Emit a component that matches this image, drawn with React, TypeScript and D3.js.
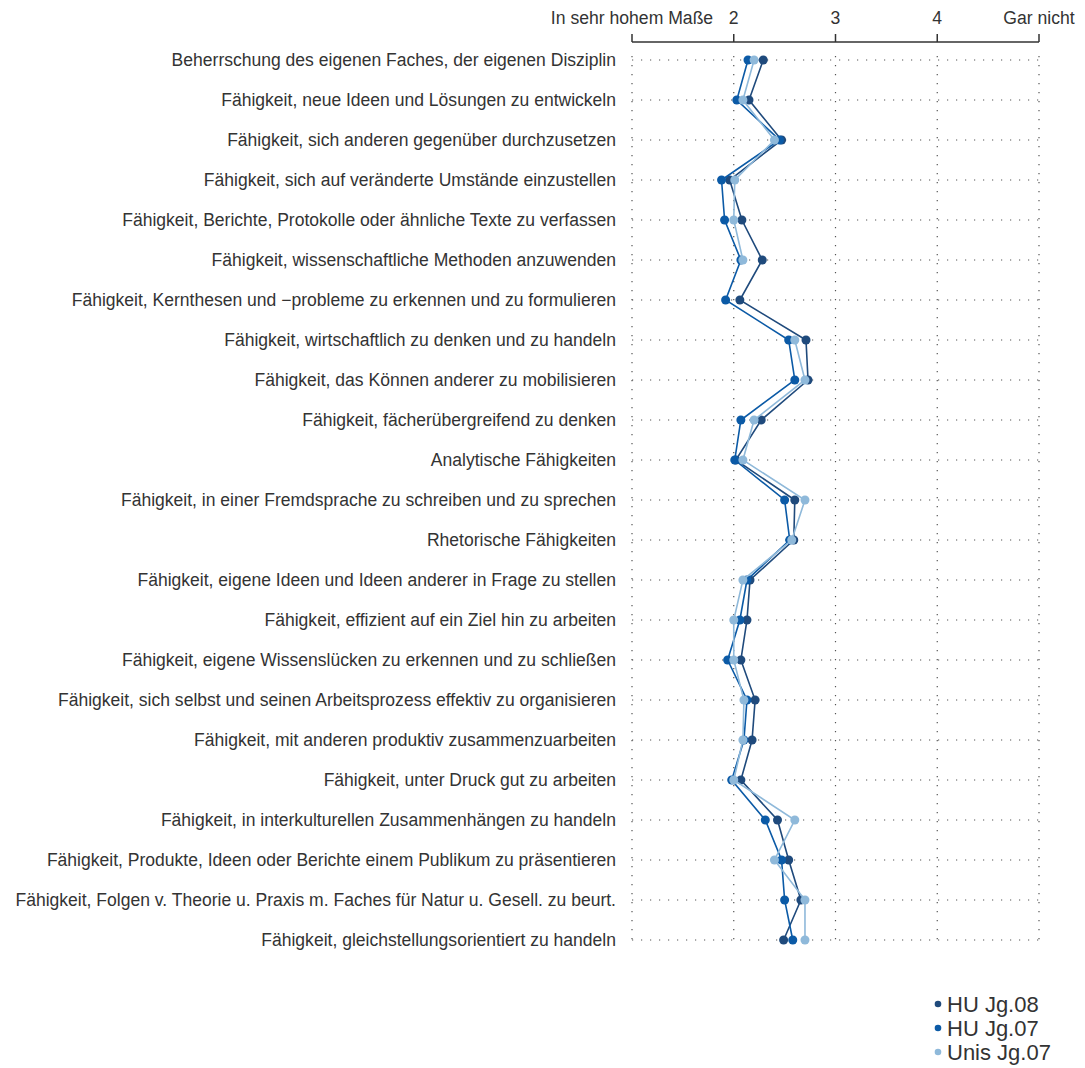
import React from "react";
import * as d3 from "d3";

const categories = [
  "Beherrschung des eigenen Faches, der eigenen Disziplin",
  "Fähigkeit, neue Ideen und Lösungen zu entwickeln",
  "Fähigkeit, sich anderen gegenüber durchzusetzen",
  "Fähigkeit, sich auf veränderte Umstände einzustellen",
  "Fähigkeit, Berichte, Protokolle oder ähnliche Texte zu verfassen",
  "Fähigkeit, wissenschaftliche Methoden anzuwenden",
  "Fähigkeit, Kernthesen und −probleme zu erkennen und zu formulieren",
  "Fähigkeit, wirtschaftlich zu denken und zu handeln",
  "Fähigkeit, das Können anderer zu mobilisieren",
  "Fähigkeit, fächerübergreifend zu denken",
  "Analytische Fähigkeiten",
  "Fähigkeit, in einer Fremdsprache zu schreiben und zu sprechen",
  "Rhetorische Fähigkeiten",
  "Fähigkeit, eigene Ideen und Ideen anderer in Frage zu stellen",
  "Fähigkeit, effizient auf ein Ziel hin zu arbeiten",
  "Fähigkeit, eigene Wissenslücken zu erkennen und zu schließen",
  "Fähigkeit, sich selbst und seinen Arbeitsprozess effektiv zu organisieren",
  "Fähigkeit, mit anderen produktiv zusammenzuarbeiten",
  "Fähigkeit, unter Druck gut zu arbeiten",
  "Fähigkeit, in interkulturellen Zusammenhängen zu handeln",
  "Fähigkeit, Produkte, Ideen oder Berichte einem Publikum zu präsentieren",
  "Fähigkeit, Folgen v. Theorie u. Praxis m. Faches für Natur u. Gesell. zu beurt.",
  "Fähigkeit, gleichstellungsorientiert zu handeln",
];

const huJg08 = [2.29, 2.15, 2.47, 1.96, 2.08, 2.28, 2.06, 2.71, 2.73, 2.27, 2.02, 2.6, 2.59, 2.16, 2.13, 2.07, 2.21, 2.18, 2.07, 2.43, 2.54, 2.66, 2.49];
const huJg07 = [2.14, 2.03, 2.45, 1.88, 1.91, 2.07, 1.92, 2.54, 2.6, 2.07, 2.01, 2.5, 2.55, 2.13, 2.06, 1.94, 2.13, 2.1, 1.98, 2.31, 2.47, 2.5, 2.58];
const unisJg07: (number | null)[] = [2.2, 2.09, 2.4, 2.01, 2.0, 2.09, null, 2.6, 2.7, 2.2, 2.09, 2.7, 2.57, 2.09, 2.0, 2.0, 2.1, 2.09, 2.0, 2.6, 2.4, 2.7, 2.7];

const tickValues = [1, 2, 3, 4, 5];
const tickLabels = ["In sehr hohem Maße", "2", "3", "4", "Gar nicht"];

const seriesNames = ["HU Jg.08", "HU Jg.07", "Unis Jg.07"];
const seriesColors = ["#1f4a7c", "#0b5aa6", "#8fb9da"];

const FONT = "'Liberation Sans', Arial, Helvetica, sans-serif";

export default function App() {
  const width = 1085;
  const height = 1068;
  const x = d3.scaleLinear().domain([1, 5]).range([632, 1039]);
  const y = d3
    .scalePoint<string>()
    .domain(categories)
    .range([60, 940]);

  const series: (number | null)[][] = [huJg08, huJg07, unisJg07];
  const line = d3
    .line<number | null>()
    .defined((d) => d != null)
    .x((d) => x(d as number))
    .y((_, i) => y(categories[i]) as number);

  const axisY = 42;
  return (
    <svg
      width={width}
      height={height}
      style={{ position: "absolute", left: 0, top: 0, background: "#fff" }}
      fontFamily={FONT}
    >
      {/* grid */}
      <g stroke="#555" strokeWidth={1.2} strokeDasharray="1.2,7.8">
        {categories.map((c) => (
          <line key={c} x1={x(1)} x2={x(5)} y1={y(c)} y2={y(c)} />
        ))}
        {tickValues.map((t) => (
          <line key={t} x1={x(t)} x2={x(t)} y1={56} y2={944} />
        ))}
      </g>
      {/* top axis */}
      <g>
        <line x1={x(1)} x2={x(5)} y1={axisY} y2={axisY} stroke="#333" strokeWidth={1.5} />
        {tickValues.map((t, i) => (
          <g key={t}>
            <line x1={x(t)} x2={x(t)} y1={axisY} y2={axisY - 8} stroke="#333" strokeWidth={1.5} />
            <text x={x(t)} y={24} textAnchor="middle" fontSize={17.6} fill="#333">
              {tickLabels[i]}
            </text>
          </g>
        ))}
      </g>
      {/* labels */}
      {categories.map((c) => (
        <text key={c} x={616} y={(y(c) as number) + 6} textAnchor="end" fontSize={17.55} fill="#333">
          {c}
        </text>
      ))}
      {/* series */}
      {series.map((s, k) => (
        <g key={k}>
          <path d={line(s) || ""} fill="none" stroke={seriesColors[k]} strokeWidth={1.6} />
          {s.map((v, i) =>
            v == null ? null : (
              <circle key={i} cx={x(v)} cy={y(categories[i])} r={4.5} fill={seriesColors[k]} />
            )
          )}
        </g>
      ))}
      {/* legend */}
      {seriesNames.map((n, i) => (
        <g key={n}>
          <circle cx={938} cy={1004 + i * 24} r={3.3} fill={seriesColors[i]} />
          <text x={947} y={1011.5 + i * 24} fontSize={22} fill="#333">
            {n}
          </text>
        </g>
      ))}
    </svg>
  );
}
